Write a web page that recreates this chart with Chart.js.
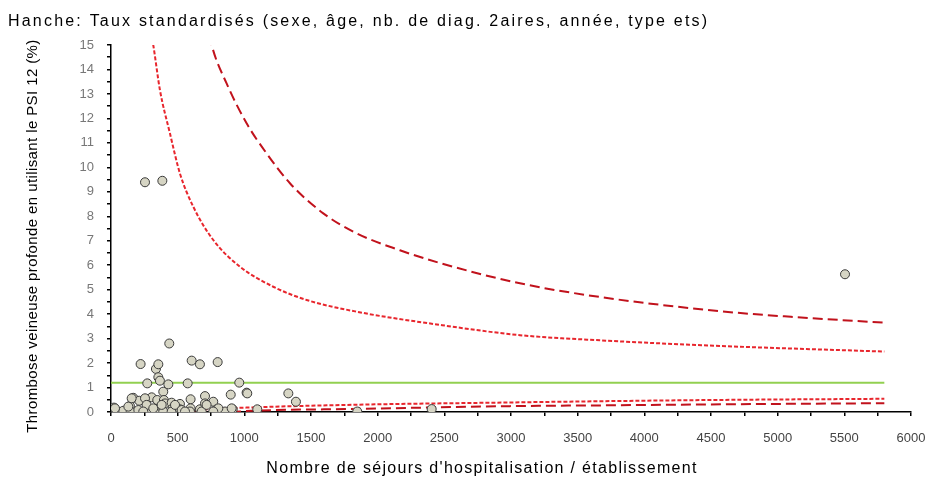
<!DOCTYPE html>
<html>
<head>
<meta charset="utf-8">
<script src="https://cdn.jsdelivr.net/npm/chart.js@4.4.1/dist/chart.umd.min.js"></script>
<style>
  html, body { margin: 0; padding: 0; background: #fff; }
  #wrap { width: 934px; height: 477px; }
</style>
</head>
<body>
<div id="wrap"><canvas id="chart" width="934" height="477"></canvas></div>
<script>
// établissements : nombre de séjours, taux standardisé (%)
var sejours = [22, 47, 92, 142, 148, 167, 212, 205, 222, 272, 267, 280, 305, 330, 337, 355, 355, 367, 347, 392,
    397, 405, 392, 430, 437, 455, 462, 455, 517, 517, 575, 597, 605, 597, 592, 667, 667, 680, 705, 705,
    767, 792, 800, 855, 898, 913, 962, 1017, 1022, 1097, 1330, 1387, 1847, 2405, 255, 385, 5505,
    30, 130, 155, 255, 267, 317, 380, 480, 530, 717, 805, 905, 242, 555, 767];
var taux = [0.18, 0.02, 0.05, 0.25, 0.02, 0.58, 0.46, 0.08, 1.96, 1.17, 0.52, 0.1, 0.6, 0.02, 1.76, 1.95, 1.42, 1.28, 0.49, 0.83,
    0.49, 0.35, 0.02, 1.13, 2.8, 0.38, 0.15, 0.02, 0.33, 0.11, 1.17, 0.52, 2.1, 0.15, 0.02, 1.95, 0.11, 0.02, 0.65, 0.35,
    0.42, 0.11, 2.04, 0.02, 0.71, 0.11, 1.2, 0.79, 0.76, 0.11, 0.76, 0.42, 0.02, 0.12, 9.39, 9.45, 5.63,
    0.15, 0.22, 0.56, 0.56, 0.29, 0.15, 0.29, 0.29, 0.08, 0.29, 0.15, 0.15, 0.02, 0.02, 0.02];

// taux moyen
var moyenneX = [0, 5800];
var moyenneY = [1.2, 1.2];

// limites 95% (tirets courts)
var sup95X = [300, 317, 367, 442, 517, 617, 767, 967, 1217, 1467, 1842, 2467, 3067, 3667, 4567, 5800];
var sup95Y = [15.5, 15, 13.16, 11.39, 9.75, 8.39, 7.03, 5.94, 5.12, 4.58, 4.1, 3.56, 3.14, 2.93, 2.7, 2.47];
var inf95X = [560, 700, 1017, 1767, 2992, 3667, 4500, 5800];
var inf95Y = [0, 0.1, 0.18, 0.29, 0.39, 0.44, 0.49, 0.54];

// limites 99.8% (tirets longs)
var sup998X = [740, 755, 867, 1017, 1167, 1342, 1592, 1842, 2167, 2467, 3067, 3667, 4567, 5100, 5800];
var sup998Y = [15.4, 15, 13.43, 11.8, 10.57, 9.35, 8.12, 7.3, 6.61, 6.09, 5.26, 4.7, 4.12, 3.89, 3.65];
var inf998X = [900, 1100, 1767, 2992, 3667, 4500, 5800];
var inf998Y = [0, 0.06, 0.12, 0.24, 0.27, 0.31, 0.36];

var xTicks = [0, 500, 1000, 1500, 2000, 2500, 3000, 3500, 4000, 4500, 5000, 5500, 6000];
var yTicks = [0, 1, 2, 3, 4, 5, 6, 7, 8, 9, 10, 11, 12, 13, 14, 15];

var titre = 'Hanche: Taux standardisés (sexe, âge, nb. de diag. 2aires, année, type ets)';
var titreX = "Nombre de séjours d'hospitalisation / établissement";
var titreY = 'Thrombose veineuse profonde en utilisant le PSI 12 (%)';

function pts(xs, ys) {
    return xs.map(function (x, i) { return { x: x, y: ys[i] }; });
}

function courbe(xs, ys, color, dash, order) {
    return {
        type: 'line',
        data: pts(xs, ys),
        borderColor: color,
        borderWidth: 2,
        borderDash: dash,
        pointRadius: 0,
        fill: false,
        cubicInterpolationMode: 'monotone',
        order: order
    };
}

// titres dessinés à la main (espacement des lettres plus large que Chart.js)
var titresPlugin = {
    id: 'titres',
    afterDraw: function (chart) {
        var c = chart.ctx;
        c.save();
        c.fillStyle = '#000';
        c.textBaseline = 'alphabetic';

        c.font = '16px "Liberation Sans", Arial, sans-serif';
        c.letterSpacing = '2.2px';
        c.textAlign = 'left';
        c.fillText(titre, 8, 26);

        c.letterSpacing = '1.3px';
        c.textAlign = 'center';
        c.fillText(titreX, 482, 473);

        c.font = '15px "Liberation Sans", Arial, sans-serif';
        c.letterSpacing = '0.4px';
        c.translate(33, 236);
        c.rotate(-Math.PI / 2);
        c.textBaseline = 'middle';
        c.fillText(titreY, 0, 0);
        c.restore();
    }
};

document.addEventListener('DOMContentLoaded', function () {
    var ctx = document.getElementById('chart').getContext('2d');
    new Chart(ctx, {
        type: 'scatter',
        data: {
            datasets: [
                {
                    data: pts(sejours, taux),
                    backgroundColor: '#d6d5c4',
                    borderColor: '#3a3a3a',
                    borderWidth: 1,
                    pointRadius: 4.5,
                    order: 0
                },
                courbe(moyenneX, moyenneY, '#92d050', [], 1),
                courbe(sup95X, sup95Y, '#e8262d', [4, 2], 2),
                courbe(inf95X, inf95Y, '#e8262d', [4, 2], 2),
                courbe(sup998X, sup998Y, '#c1121c', [10, 5], 3),
                courbe(inf998X, inf998Y, '#c1121c', [10, 5], 3)
            ]
        },
        options: {
            responsive: false,
            animation: false,
            layout: { padding: { left: 8, right: 23, top: 45, bottom: 0 } },
            plugins: {
                legend: { display: false },
                tooltip: { enabled: false },
                title: { display: false }
            },
            scales: {
                x: {
                    type: 'linear',
                    min: 0,
                    max: 6000,
                    afterBuildTicks: function (scale) {
                        var t = [];
                        for (var v = 0; v <= 6000; v += 250) t.push({ value: v });
                        scale.ticks = t;
                    },
                    afterFit: function (scale) {
                        scale.height = 65;
                        scale.paddingLeft = 0;
                        scale.paddingRight = 0;
                    },
                    border: { color: '#000', width: 1.5 },
                    grid: { drawOnChartArea: false, color: '#000', tickLength: 4, lineWidth: 1.5 },
                    ticks: {
                        color: '#444',
                        padding: 15,
                        maxRotation: 0,
                        autoSkip: false,
                        font: { family: 'Liberation Sans', size: 13 },
                        callback: function (v) { return xTicks.indexOf(v) >= 0 ? String(v) : ''; }
                    }
                },
                y: {
                    type: 'linear',
                    min: 0,
                    max: 15,
                    afterBuildTicks: function (scale) {
                        var t = [];
                        for (var v = 0; v <= 15; v += 0.5) t.push({ value: v });
                        scale.ticks = t;
                    },
                    afterFit: function (scale) {
                        scale.width = 103;
                        scale.paddingTop = 0;
                        scale.paddingBottom = 0;
                    },
                    border: { color: '#000', width: 1.5 },
                    grid: { drawOnChartArea: false, color: '#000', tickLength: 4, lineWidth: 1.5 },
                    ticks: {
                        color: '#777',
                        padding: 13,
                        autoSkip: false,
                        font: { family: 'Liberation Sans', size: 13 },
                        callback: function (v) { return yTicks.indexOf(v) >= 0 ? String(v) : ''; }
                    }
                }
            }
        },
        plugins: [titresPlugin]
    });
});
</script>
</body>
</html>
